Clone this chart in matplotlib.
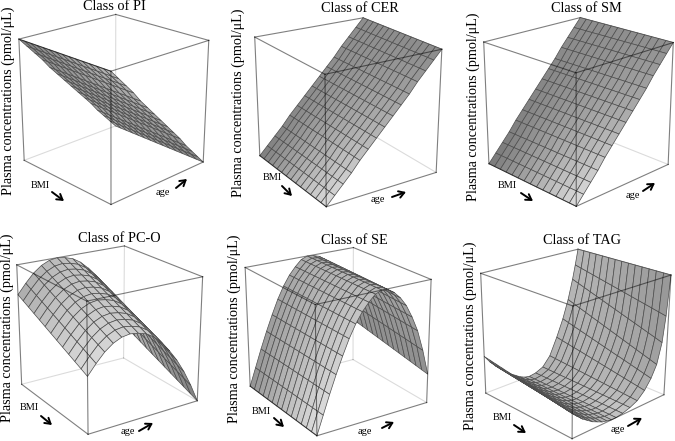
import numpy as np
import matplotlib
matplotlib.use("Agg")
import matplotlib.pyplot as plt
from matplotlib.patches import FancyArrowPatch

plt.rcParams["font.family"] = ["Liberation Serif", "DejaVu Sans"]

classes = ["PI", "CER", "SM", "PC-O", "SE", "TAG"]

# surface height (0-1 of the box) along age, at lowest and highest BMI
pi_low = [1.00, 0.93, 0.86, 0.79, 0.71, 0.64, 0.57, 0.50, 0.43, 0.36, 0.29, 0.21, 0.14, 0.07, 0.00]
pi_high = [1.00, 0.93, 0.86, 0.79, 0.71, 0.64, 0.57, 0.50, 0.43, 0.36, 0.29, 0.21, 0.14, 0.07, 0.00]
cer_low = [0.00, 0.07, 0.14, 0.21, 0.29, 0.36, 0.43, 0.50, 0.57, 0.64, 0.71, 0.79, 0.86, 0.93, 1.00]
cer_high = [0.00, 0.07, 0.14, 0.21, 0.29, 0.36, 0.43, 0.50, 0.57, 0.64, 0.71, 0.79, 0.86, 0.93, 1.00]
sm_low = [0.00, 0.07, 0.14, 0.21, 0.29, 0.36, 0.43, 0.50, 0.57, 0.64, 0.71, 0.79, 0.86, 0.93, 1.00]
sm_high = [0.00, 0.07, 0.14, 0.21, 0.29, 0.36, 0.43, 0.50, 0.57, 0.64, 0.71, 0.79, 0.86, 0.93, 1.00]
pco_low = [0.76, 0.84, 0.91, 0.96, 0.99, 1.00, 0.99, 0.97, 0.93, 0.87, 0.80, 0.70, 0.59, 0.46, 0.31]
pco_high = [0.45, 0.53, 0.60, 0.65, 0.68, 0.69, 0.68, 0.66, 0.62, 0.56, 0.48, 0.39, 0.28, 0.15, 0.00]
se_low = [0.00, 0.15, 0.30, 0.44, 0.57, 0.69, 0.79, 0.87, 0.93, 0.98, 1.00, 0.995, 0.98, 0.94, 0.88, 0.79, 0.69, 0.55, 0.37]
se_high = [0.00, 0.15, 0.30, 0.44, 0.57, 0.69, 0.79, 0.87, 0.93, 0.98, 1.00, 0.99, 0.96, 0.91, 0.84, 0.74, 0.62, 0.45, 0.24]
tag_low = [0.32, 0.26, 0.21, 0.17, 0.13, 0.09, 0.06, 0.03, 0.01, 0.00, 0.01, 0.04, 0.12, 0.27, 0.42, 0.58, 0.75, 0.87, 1.00]
tag_high = [0.20, 0.16, 0.12, 0.09, 0.06, 0.04, 0.02, 0.01, 0.00, 0.00, 0.01, 0.03, 0.06, 0.12, 0.20, 0.30, 0.47, 0.68, 1.00]
low_bmi = [pi_low, cer_low, sm_low, pco_low, se_low, tag_low]
high_bmi = [pi_high, cer_high, sm_high, pco_high, se_high, tag_high]
bmi_cells = [14, 14, 14, 12, 14, 14]

# TAG grid lines crowd together where the surface turns up
tag_age = [0, 0.05, 0.10, 0.15, 0.20, 0.25, 0.30, 0.35, 0.40, 0.45, 0.52, 0.60, 0.68, 0.76, 0.83, 0.89, 0.94, 0.97, 1]

# camera of each box, and axes left, bottom, side in pixels
views = [(21.53, -133.72, -0.05, 0.687, 0.995, 0.998), (21.65, -123.19, -0.02, 0.681, 1.016, 0.997),
         (20.99, -134.06, 0.03, 0.703, 0.989, 0.995), (21.27, -123.17, 0.0, 0.702, 1.019, 1.008),
         (21.43, -122.86, 0.23, 0.762, 1.022, 1.0), (21.90, -134.26, -0.47, 0.620, 0.979, 0.980)]
boxes = [(1.0, 226.2, 219.2), (233.1, 222.8, 220.0), (465.9, 223.6, 219.1),
         (-5.2, -5.0, 219.6), (223.5, -7.2, 219.8), (463.3, -7.0, 218.1)]

# gray levels at age 0, .5, 1 for low and high BMI
gray_low = [(135, 155, 170), (130, 142, 142), (125, 135, 142), (175, 198, 185), (150, 175, 140), (140, 178, 182)]
gray_high = [(185, 160, 130), (222, 175, 135), (222, 175, 140), (222, 198, 115), (225, 185, 140), (150, 200, 148)]

title_pos = [(114, 7), (360, 8), (586, 8), (119, 238), (354, 240), (582, 240)]
ylabel_pos = [(8, 101), (238, 103), (473, 107), (7, 328), (234, 329), (470, 336)]
bmi_pos = [(40, 186), (272, 178), (507, 186), (29, 408), (261, 411), (502, 418)]
age_pos = [(163, 192), (378, 200), (633, 195), (128, 431), (365, 432), (618, 429)]
bmi_arrows = [((52, 192), (64, 201)), ((282, 186), (292, 196)), ((521, 193), (533, 201)),
              ((41, 416), (52, 425)), ((274, 418), (284, 427)), ((514, 425), (526, 433))]
age_arrows = [((176, 188), (187, 179)), ((392, 197), (406, 192)), ((643, 191), (655, 183)),
              ((139, 431), (153, 423)), ((382, 428), (394, 422)), ((628, 426), (642, 418))]


def box_edge(ax, a, b, z, alpha=0.5):
    ax.plot(*zip(a, b), color="black", alpha=alpha, lw=0.8, zorder=z)


def to_fig(p):
    return p[0] / 675, 1 - p[1] / 441


fig = plt.figure(figsize=(6.75, 4.41), dpi=100)

for i, name in enumerate(classes):
    l, b, side = boxes[i]
    ax = fig.add_axes([l / 675, b / 441, side / 675, side / 441], projection="3d", computed_zorder=False)
    ax.patch.set_alpha(0)
    ax.set_axis_off()

    if name == "TAG":
        age = np.array(tag_age)
    else:
        age = np.linspace(0, 1, len(low_bmi[i]))
    bmi = np.linspace(0, 1, bmi_cells[i] + 1)
    A, B = np.meshgrid(age, bmi)
    Z = np.outer(1 - bmi, low_bmi[i]) + np.outer(bmi, high_bmi[i])

    g0 = np.interp(age, [0, 0.5, 1], gray_low[i])
    g1 = np.interp(age, [0, 0.5, 1], gray_high[i])
    gray = (np.outer(1 - bmi, g0) + np.outer(bmi, g1)) / 255
    colors = np.dstack([gray, gray, gray])

    # far corner of the floor is behind the surface and pale
    box_edge(ax, (1, 0, 0), (1, 0, 1), 1, alpha=0.14)
    box_edge(ax, (1, 0, 0), (0, 0, 0), 1, alpha=0.14)
    box_edge(ax, (1, 0, 0), (1, 1, 0), 1, alpha=0.14)
    box_edge(ax, (0, 0, 1), (1, 0, 1), 1)
    box_edge(ax, (1, 0, 1), (1, 1, 1), 1)
    ax.plot_surface(A, B, Z, facecolors=colors, edgecolor="#4d4d4d", linewidth=0.5,
                    rstride=1, cstride=1, shade=False, zorder=2)
    box_edge(ax, (0, 0, 1), (0, 1, 1), 3)
    box_edge(ax, (0, 1, 1), (1, 1, 1), 3)
    box_edge(ax, (0, 0, 0), (0, 0, 1), 3)
    box_edge(ax, (1, 1, 0), (1, 1, 1), 3)
    box_edge(ax, (0, 1, 0), (0, 1, 1), 3)
    box_edge(ax, (0, 0, 0), (0, 1, 0), 3)
    box_edge(ax, (0, 1, 0), (1, 1, 0), 3)

    ax.set_xlim(0, 1)
    ax.set_ylim(1, 0)
    ax.set_zlim(0, 1)
    elev, azim, roll, focal, asp_y, asp_z = views[i]
    ax.view_init(elev, azim, roll)
    ax.set_proj_type("persp", focal_length=focal)
    ax.set_box_aspect((1, asp_y, asp_z))

    fig.text(*to_fig(title_pos[i]), "Class of " + name, fontsize=10.3, ha="center", va="center")
    fig.text(*to_fig(ylabel_pos[i]), "Plasma concentrations (pmol/\u03bcL)", fontsize=10.2,
             rotation=90, ha="center", va="center")
    fig.text(*to_fig(bmi_pos[i]), "BMI", fontsize=7.4, ha="center", va="center")
    fig.text(*to_fig(age_pos[i]), "age", fontsize=7.4, ha="center", va="center")
    for start, end in (bmi_arrows[i], age_arrows[i]):
        fig.add_artist(FancyArrowPatch(
            to_fig(start), to_fig(end), transform=fig.transFigure,
            arrowstyle="->,head_length=2.6,head_width=1.6", lw=1.4, color="black",
            shrinkA=0, shrinkB=0, mutation_scale=1.5))

fig.savefig("out.png", dpi=100)
